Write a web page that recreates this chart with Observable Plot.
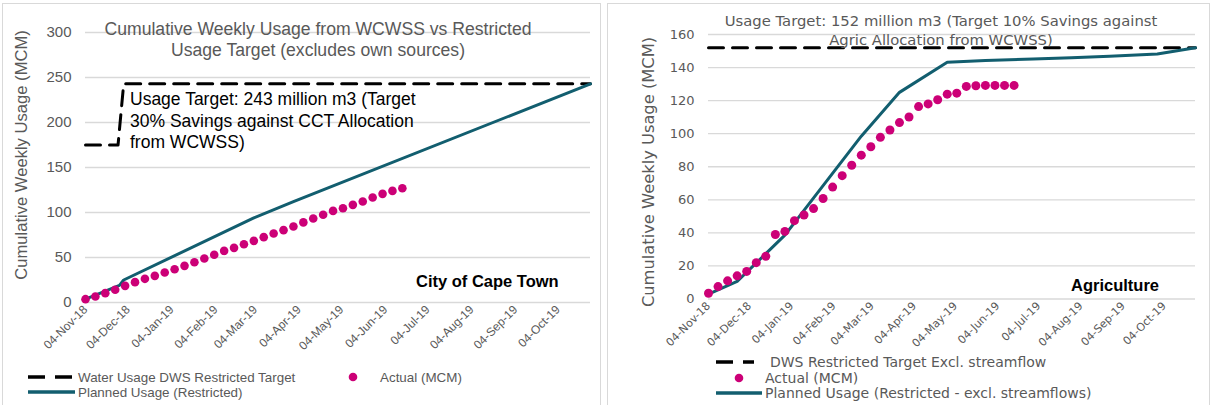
<!DOCTYPE html>
<html><head><meta charset="utf-8">
<script src="https://cdn.jsdelivr.net/npm/d3@7"></script>
<script src="https://cdn.jsdelivr.net/npm/@observablehq/plot@0.6"></script>
<style>
body{margin:0;background:#fff;}
#wrap{position:relative;width:1212px;height:405px;overflow:hidden;}
.panel{position:absolute;border:1px solid #d9d9d9;box-sizing:border-box;}
.abs{position:absolute;white-space:nowrap;}
.L{font-family:"Liberation Sans",Arial,sans-serif;}
.G{font-family:"DejaVu Sans",sans-serif;}
.rot{position:absolute;transform:translate(-50%,-50%) rotate(-90deg);white-space:nowrap;color:#595959;}
.leg{position:absolute;display:flex;align-items:center;color:#595959;white-space:nowrap;}
</style></head><body>
<div id="wrap">
  <div class="panel" style="left:2px;top:3px;width:599px;height:404px"></div>
  <div class="panel" style="left:607px;top:3px;width:603px;height:404px"></div>
  <div id="c1" class="abs" style="left:0;top:0"></div>
  <div id="c2" class="abs" style="left:606px;top:0"></div>
</div>
<script>
// ---------- data ----------
const weekDates = ["2018-11-04","2018-11-11","2018-11-18","2018-11-25","2018-12-02","2018-12-09","2018-12-16","2018-12-23","2018-12-30",
  "2019-01-06","2019-01-13","2019-01-20","2019-01-27","2019-02-03","2019-02-10","2019-02-17","2019-02-24",
  "2019-03-03","2019-03-10","2019-03-17","2019-03-24","2019-03-31","2019-04-07","2019-04-14","2019-04-21","2019-04-28",
  "2019-05-05","2019-05-12","2019-05-19","2019-05-26","2019-06-02","2019-06-09","2019-06-16"];
const cctActual = [3.7,6.7,10.4,14.1,18.5,22.6,26.3,29.6,33.3,37,40.7,44.8,48.9,53,57.4,60.7,64.8,68.5,72.6,76.7,80.4,84.4,89,93.3,97.5,101.8,104.8,108.5,112.2,116.6,120.7,124,127];
const agriActual = [3.5,7.5,11,14,16.7,22,25.8,39,40.9,47.4,50.8,54.7,60.8,67.7,74.6,80.9,87,92.1,97.8,102.2,106.7,110.1,116.4,118,120.5,123.9,124.5,128.6,129,129.2,129.2,129.2,129.2];

const cctPlannedDates = ["2018-11-04","2018-11-28","2018-12-01","2019-03-03","2019-03-31","2019-10-27"];
const cctPlannedValues = [3.7,19,25,94,112,243];
const cctTargetDates = ["2018-11-04","2018-11-27","2018-12-01","2019-10-27"];
const cctTargetValues = [175,175,243,243];

const agriPlannedDates = ["2018-11-04","2018-11-25","2018-12-30","2019-02-24","2019-03-24","2019-04-28","2019-05-26","2019-06-30","2019-07-28","2019-08-25","2019-09-29","2019-10-27"];
const agriPlannedValues = [3,10.6,38.6,98.5,125,143.2,144.3,145.2,146,146.9,148.2,152];
const agriTargetDates = ["2018-11-04","2019-10-27"];
const agriTargetValues = [152,152];

const xTickDates = ["2018-11-04","2018-12-04","2019-01-04","2019-02-04","2019-03-04","2019-04-04","2019-05-04","2019-06-04","2019-07-04","2019-08-04","2019-09-04","2019-10-04"];
const cctYTicks = [0,50,100,150,200,250,300];
const agriYTicks = [0,20,40,60,80,100,120,140,160];
const xDomain = ["2018-11-04","2019-10-27"];

// ---------- helpers ----------
const P = s => new Date(s + "T00:00:00Z");
const rows = (ds, vs) => ds.map((d, i) => ({date: P(d), value: vs[i]}));
const fmt = d3.utcFormat("%d-%b-%y");
const TEAL = "#125e6f", MAG = "#cc0077", GRID = "#d9d9d9", TXT = "#595959";

function chart(o) {
  return Plot.plot({
    width: o.width, height: 360,
    marginLeft: o.ml, marginRight: o.mr, marginTop: o.mt, marginBottom: 360 - o.y0,
    style: {fontFamily: o.font, color: TXT, background: "transparent", overflow: "visible"},
    x: {type: "utc", domain: xDomain.map(P)},
    y: {domain: o.yDomain},
    marks: [
      Plot.gridY(o.yTicks, {stroke: GRID, strokeOpacity: 1, strokeWidth: 1.3}),
      Plot.axisY(o.yTicks, {tickSize: 0, tickPadding: 14, fontSize: o.yfs, label: null, fill: TXT}),
      Plot.axisX(xTickDates.map(P), {tickSize: 0, tickPadding: 5, tickRotate: -45, tickFormat: fmt, fontSize: o.xfs, label: null, fill: TXT}),
      Plot.line(o.target, {x: "date", y: "value", stroke: "#000", strokeWidth: 3, strokeDasharray: "15,9"}),
      Plot.line(o.planned, {x: "date", y: "value", stroke: TEAL, strokeWidth: 3}),
      Plot.dot(o.actual, {x: "date", y: "value", r: o.r, fill: MAG, stroke: "none"})
    ]
  });
}

document.getElementById("c1").append(chart({
  width: 600, ml: 85, mr: 10, mt: 32, y0: 302, yDomain: [0, 300], yTicks: cctYTicks,
  font: "Liberation Sans, Arial, sans-serif", yfs: 15, xfs: 12, r: 4.3,
  target: rows(cctTargetDates, cctTargetValues),
  planned: rows(cctPlannedDates, cctPlannedValues),
  actual: rows(weekDates, cctActual)
}));
document.getElementById("c2").append(chart({
  width: 606, ml: 102, mr: 17, mt: 34, y0: 298.5, yDomain: [0, 160], yTicks: agriYTicks,
  font: "DejaVu Sans, sans-serif", yfs: 13, xfs: 11, r: 4.5,
  target: rows(agriTargetDates, agriTargetValues),
  planned: rows(agriPlannedDates, agriPlannedValues),
  actual: rows(weekDates, agriActual)
}));

// ---------- text & legends ----------
const wrap = document.getElementById("wrap");
function add(html) { wrap.insertAdjacentHTML("beforeend", html); }
const dashSvg = (w) => `<svg width="${w}" height="8" style="margin-right:5px"><line x1="0" x2="${w}" y1="4" y2="4" stroke="#000" stroke-width="3.5" stroke-dasharray="17,10"/></svg>`;
const lineSvg = (w) => `<svg width="${w}" height="8" style="margin-right:3px"><line x1="0" x2="${w}" y1="4" y2="4" stroke="${TEAL}" stroke-width="3.5"/></svg>`;
const dotSvg = () => `<svg width="10" height="10"><circle cx="5" cy="5" r="4.3" fill="${MAG}"/></svg>`;

// left panel
add(`<div class="abs L" style="left:68px;top:19px;width:500px;text-align:center;font-size:17.6px;line-height:21px;color:${TXT}">Cumulative Weekly Usage from WCWSS vs Restricted<br>Usage Target (excludes own sources)</div>`);
add(`<div class="abs L" style="left:130px;top:89px;font-size:17.5px;line-height:21.5px;color:#000">Usage Target: 243 million m3 (Target<br>30% Savings against CCT Allocation<br>from WCWSS)</div>`);
add(`<div class="abs L" style="left:416px;top:271px;font-size:16.5px;line-height:20px;font-weight:bold;color:#000">City of Cape Town</div>`);
add(`<div class="rot L" style="left:22px;top:155px;font-size:16.6px">Cumulative Weekly Usage (MCM)</div>`);
add(`<div class="leg L" style="left:28px;top:369px;height:16px;font-size:13.4px">${dashSvg(45)}Water Usage DWS Restricted Target</div>`);
add(`<div class="leg L" style="left:348px;top:369px;height:16px;font-size:13.4px">${dotSvg()}<span style="margin-left:22px">Actual (MCM)</span></div>`);
add(`<div class="leg L" style="left:28px;top:384px;height:16px;font-size:13.4px">${lineSvg(47)}Planned Usage (Restricted)</div>`);

// right panel
add(`<div class="abs G" style="left:691px;top:12px;width:500px;text-align:center;font-size:14.8px;line-height:18.5px;color:${TXT}">Usage Target: 152 million m3 (Target 10% Savings against<br>Agric Allocation from WCWSS)</div>`);
add(`<div class="abs L" style="left:1071px;top:275px;font-size:16.5px;line-height:20px;font-weight:bold;color:#000">Agriculture</div>`);
add(`<div class="rot G" style="left:648px;top:172px;font-size:16.3px">Cumulative Weekly Usage (MCM)</div>`);
add(`<div class="leg G" style="left:716px;top:354px;height:16px;font-size:14px">${dashSvg(38)}<span style="margin-left:11px">DWS Restricted Target Excl. streamflow</span></div>`);
add(`<div class="leg G" style="left:734px;top:370px;height:16px;font-size:14px">${dotSvg()}<span style="margin-left:21px">Actual (MCM)</span></div>`);
add(`<div class="leg G" style="left:716px;top:385px;height:16px;font-size:14px">${lineSvg(46)}Planned Usage (Restricted - excl. streamflows)</div>`);
</script>
</body></html>
